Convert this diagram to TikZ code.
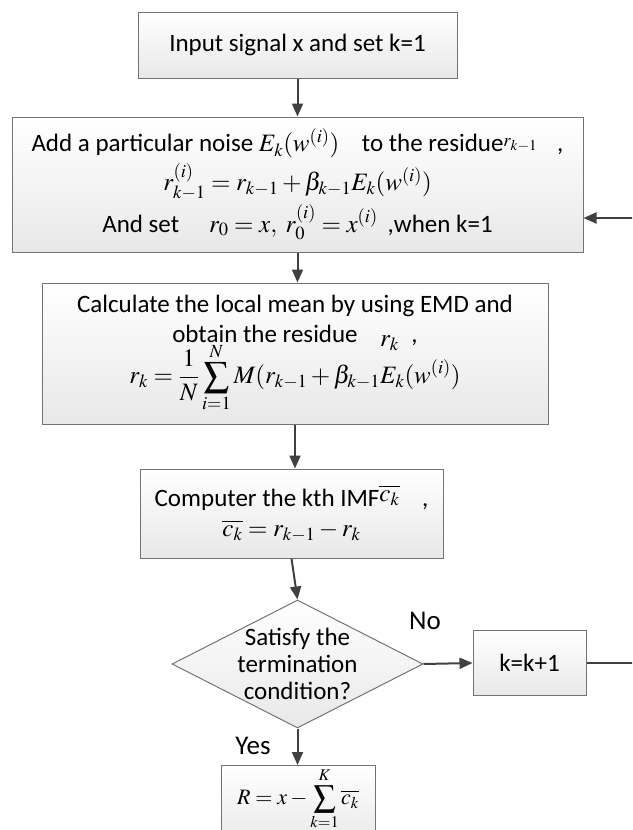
\documentclass[tikz,border=0pt]{standalone}
\usepackage{amsmath}
\usepackage{mathptmx}
\usepackage[no-math]{fontspec}
\setmainfont{Carlito}
\usetikzlibrary{arrows.meta}
\usetikzlibrary{shapes.geometric}

\begin{document}
\begin{tikzpicture}[x=1pt, y=-1pt,
        stepbox/.style = {shape = rectangle, draw = black!55, line width = 1pt, top color = white, bottom color = black!9, align = center, inner sep = 0pt, font = \fontsize{25}{30}\selectfont},
        decide/.style = {shape = diamond, draw = black!55, line width = 1pt, top color = white, bottom color = black!9, inner sep = 0pt},
        flow/.style = {draw = black!75, line width = 2pt, -{Triangle[length = 13pt, width = 11pt]}},
        answer/.style = {font = \fontsize{27}{31}\selectfont},
    ]
    \clip (0,0) rectangle (632,830);
    \node[stepbox, minimum width = 319, minimum height = 66] (input) at (297.5, 45) {Input signal x and set k=1};
    \node[stepbox, minimum width = 571, minimum height = 135] (noise) at (297.5, 184.5) {Add a particular noise $E_k(w^{(i)})$\hspace{0.9em}to the residue\raisebox{5pt}{$\scriptstyle r_{k-1}$}\hspace{0.8em},\\[4pt]
        $r_{k-1}^{(i)} = r_{k-1} + \beta_{k-1}E_k(w^{(i)})$\\[4pt]
        And set\hspace{1.2em}$r_0 = x,\ r_0^{(i)} = x^{(i)}$\hspace{0.4em},when k=1};
    \node[stepbox, minimum width = 506, minimum height = 141] (mean) at (295, 353.5) {Calculate the local mean by using EMD and\\
        obtain the residue\hspace{0.9em}\raisebox{-4pt}{$r_k$}\hspace{0.5em},\\[-9pt]
        $\displaystyle r_k = \frac{1}{N}\sum_{i=1}^{N} M(r_{k-1} + \beta_{k-1}E_k(w^{(i)})$};
    \node[stepbox, minimum width = 303, minimum height = 89] (imf) at (291.5, 513.5) {Computer the kth IMF\raisebox{5pt}{$\overline{c_k}$}\hspace{0.9em},\\
        $\overline{c_k} = r_{k-1} - r_k$};
    \node[decide, minimum width = 251, minimum height = 128] (stop) at (297.5, 664) {};
    \node[align = center, font = \fontsize{25}{27}\selectfont] (stoptext) at (stop) {Satisfy the\\ termination\\ condition?};
    \node[stepbox, minimum width = 113, minimum height = 65] (knext) at (529.5, 663) {k=k+1};
    \node[stepbox, minimum width = 154, minimum height = 80, anchor = north] (result) at (298, 765) {};
    \node[font = \fontsize{22}{26}\selectfont] (resulttext) at (298, 799) {$\displaystyle R = x - \sum_{k=1}^{K}\overline{c_k}$};
    \node[answer] (no) at (425, 621) {No};
    \node[answer] (yes) at (253, 746) {Yes};
    \coordinate (back) at (652, 218);

    \draw[flow] (input.south) -- (input.south |- noise.north);
    \draw[flow] (noise.south) -- (noise.south |- mean.north);
    \draw[flow] (mean.south) -- (mean.south |- imf.north);
    \draw[flow] (imf.south) -- (stop.north);
    \draw[flow] (stop.east) -- (knext.west);
    \draw[flow] (stop.south) -- (stop.south |- result.north);
    \draw[flow] (knext.east) -| (back) -- (noise.east |- back);
\end{tikzpicture}
\end{document}
